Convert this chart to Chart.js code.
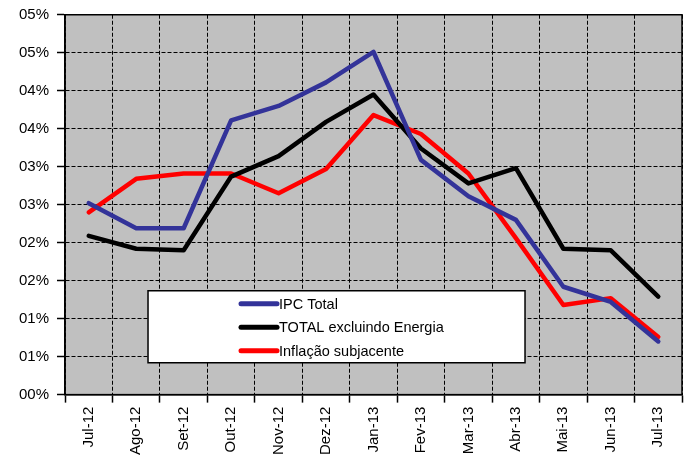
<!DOCTYPE html>
<html>
<head>
<meta charset="utf-8">
<script src="https://cdn.jsdelivr.net/npm/chart.js@4"></script>
<style>
  body { margin: 0; background: #fff; }
</style>
</head>
<body>
<canvas id="InflacaoChart" width="691" height="459"></canvas>
<script>

// Data

const months = ['Jul-12', 'Ago-12', 'Set-12', 'Out-12', 'Nov-12', 'Dez-12', 'Jan-13',
    'Fev-13', 'Mar-13', 'Abr-13', 'Mai-13', 'Jun-13', 'Jul-13'];

const ipcTotal = [2.52, 2.19, 2.19, 3.61, 3.80, 4.11, 4.51, 3.09, 2.61, 2.30, 1.42, 1.22, 0.70];

const totalSemEnergia = [2.09, 1.92, 1.90, 2.87, 3.14, 3.59, 3.95, 3.24, 2.78, 2.98, 1.92, 1.90, 1.29];

const inflacaoSubjacente = [2.40, 2.84, 2.91, 2.91, 2.65, 2.97, 3.68, 3.43, 2.91, 2.06, 1.18, 1.27, 0.76];

const yTickLabels = ['00%', '01%', '01%', '02%', '02%', '03%', '03%', '04%', '04%', '05%', '05%'];

// grey plot background, solid frame and legend box inside the plot

const plotStyle = {
    id: 'plotStyle',
    beforeDraw(chart) {
        const { ctx, chartArea: a } = chart;
        ctx.save();
        ctx.fillStyle = '#C0C0C0';
        ctx.fillRect(a.left, a.top, a.right - a.left, a.bottom - a.top);
        ctx.restore();
    },
    afterDatasetsDraw(chart) {
        const { ctx, chartArea: a } = chart;
        ctx.save();
        ctx.strokeStyle = '#000';
        ctx.lineWidth = 1.5;
        ctx.strokeRect(a.left, a.top, a.right - a.left, a.bottom - a.top);

        // legend
        const bx = a.left + 83, by = a.top + 276, bw = 377, bh = 72;
        ctx.fillStyle = '#fff';
        ctx.fillRect(bx, by, bw, bh);
        ctx.lineWidth = 1.5;
        ctx.strokeRect(bx, by, bw, bh);
        ctx.font = '14.5px "Liberation Sans", Arial, sans-serif';
        ctx.textBaseline = 'middle';
        chart.data.datasets.forEach((ds, i) => {
            const y = by + 13 + i * 23.5;
            ctx.strokeStyle = ds.borderColor;
            ctx.lineWidth = 5;
            ctx.lineCap = 'round';
            ctx.beginPath();
            ctx.moveTo(bx + 93, y);
            ctx.lineTo(bx + 129, y);
            ctx.stroke();
            ctx.fillStyle = '#000';
            ctx.fillText(ds.label, bx + 131, y + 1);
        });
        ctx.restore();
    }
};

const Inflacao = document.getElementById('InflacaoChart').getContext('2d');

new Chart(Inflacao, {
    type: 'line',
    data: {
        labels: months,
        datasets: [
            {
                label: 'IPC Total',
                data: ipcTotal,
                borderColor: '#333399'
            },
            {
                label: 'TOTAL excluindo Energia',
                data: totalSemEnergia,
                borderColor: '#000000'
            },
            {
                label: 'Inflação subjacente',
                data: inflacaoSubjacente,
                borderColor: '#FF0000'
            }
        ]
    },
    options: {
        responsive: false,
        animation: false,
        layout: { padding: { left: 11, right: 9, top: 6, bottom: 0 } },
        elements: {
            line: { borderWidth: 4.5, tension: 0, borderCapStyle: 'round', borderJoinStyle: 'round' },
            point: { radius: 0 }
        },
        plugins: {
            legend: { display: false },
            tooltip: { enabled: false }
        },
        scales: {
            x: {
                offset: true,
                grid: {
                    offset: true,
                    color: '#000',
                    lineWidth: 1,
                    tickLength: 8,
                    tickBorderDash: [],
                    tickWidth: 1.5
                },
                border: { color: '#000', width: 1.5, dash: [4, 2] },
                ticks: {
                    color: '#000',
                    font: { family: '"Liberation Sans", Arial, sans-serif', size: 15 },
                    minRotation: 90,
                    maxRotation: 90,
                    autoSkip: false,
                    padding: 4
                }
            },
            y: {
                min: 0,
                max: 5,
                grid: {
                    color: '#000',
                    lineWidth: 1,
                    tickLength: 8,
                    tickBorderDash: [],
                    tickWidth: 1.5
                },
                border: { color: '#000', width: 1.5, dash: [4, 2] },
                ticks: {
                    stepSize: 0.5,
                    color: '#000',
                    font: { family: '"Liberation Sans", Arial, sans-serif', size: 15, lineHeight: 0.9 },
                    padding: 8,
                    callback: (v, i) => yTickLabels[i]
                }
            }
        }
    },
    plugins: [plotStyle]
});
</script>
</body>
</html>
